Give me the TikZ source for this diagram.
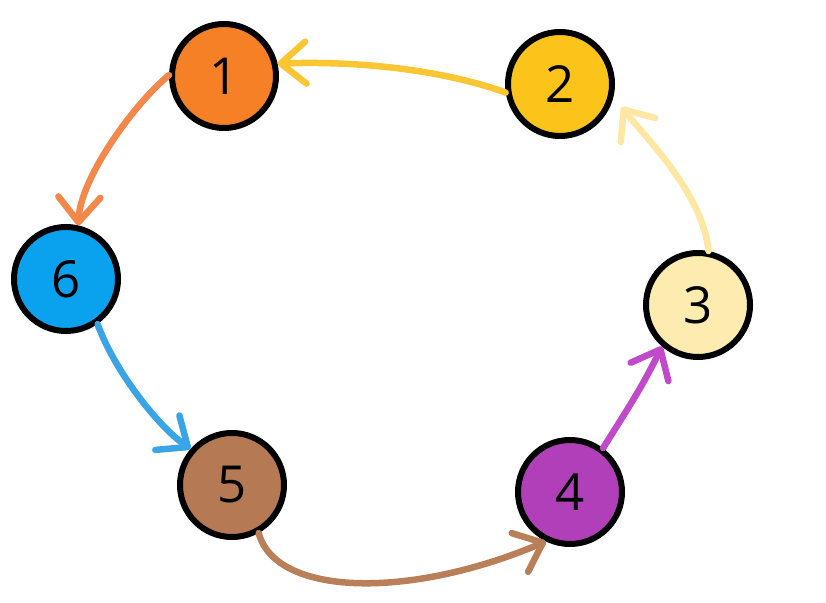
\documentclass[tikz,border=0pt]{standalone}
\usepackage{fontspec}
\setmainfont{Open Sans}
\usetikzlibrary{arrows.meta}
\definecolor{f1}{HTML}{F58025}
\definecolor{f2}{HTML}{FCC41A}
\definecolor{f3}{HTML}{FDEBB0}
\definecolor{f4}{HTML}{B23FBA}
\definecolor{f5}{HTML}{B57A53}
\definecolor{f6}{HTML}{0AA2EF}
\definecolor{a21}{HTML}{FBC633}
\definecolor{a16}{HTML}{F4874A}
\definecolor{a65}{HTML}{3AA5E6}
\definecolor{a54}{HTML}{B97F59}
\definecolor{a43}{HTML}{C04ACA}
\definecolor{a32}{HTML}{FDE7A3}
\begin{document}
\begin{tikzpicture}[x=1pt,y=1pt,
  vtx/.style={circle,draw=black,line width=6pt,minimum size=104pt,inner sep=0pt,
    font=\fontsize{51}{51}\selectfont},
  arr/.style={line width=6.5pt,line cap=round,
    -{Straight Barb[round,length=25pt,width=42pt]}}]
\useasboundingbox (0,0) rectangle (826,602);
\node[vtx,fill=f1] (n1) at (224,526) {1};
\node[vtx,fill=f2] (n2) at (560,518) {2};
\node[vtx,fill=f3] (n3) at (698,297) {3};
\node[vtx,fill=f4] (n4) at (570,110) {4};
\node[vtx,fill=f5] (n5) at (232,117) {5};
\node[vtx,fill=f6] (n6) at (66,323) {6};
\draw[arr,draw=a21] (n2.189) .. controls +(160:60) and +(2:90) .. (n1.13);
\draw[arr,draw=a16] (n1.179) .. controls +(220:50) and +(88:45) .. (n6.77);
\draw[arr,draw=a65] (n6.305) .. controls +(290:50) and +(145:40) .. (n5.139);
\draw[arr,draw=a54] (n5.299) .. controls +(285:65) and +(203:150) .. (n4.244);
\draw[arr,draw=a43] (n4.53) to[out=58,in=244] (n3.229);
\draw[arr,draw=a32,shorten >=14pt] (n3.79) .. controls +(95:60) and +(305:40) .. (n2.348);
\end{tikzpicture}
\end{document}
